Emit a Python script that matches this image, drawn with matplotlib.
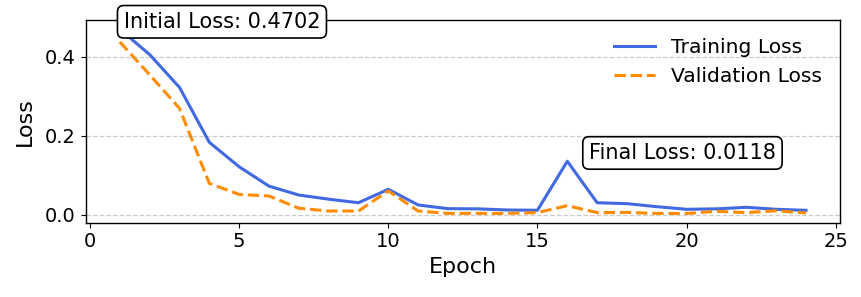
import numpy as np
import matplotlib
matplotlib.use("Agg")
import matplotlib.pyplot as plt

# loss per epoch
epochs = np.arange(1, 25)
train_loss = [0.4702, 0.406, 0.323, 0.184, 0.122, 0.073, 0.0505, 0.040, 0.031, 0.065,
              0.0253, 0.016, 0.0155, 0.0126, 0.012, 0.136, 0.031, 0.0286, 0.021, 0.0144,
              0.0155, 0.0194, 0.0144, 0.0118]
val_loss = [0.438, 0.355, 0.270, 0.080, 0.052, 0.048, 0.017, 0.010, 0.010, 0.061,
            0.010, 0.004, 0.004, 0.004, 0.006, 0.0236, 0.006, 0.0065, 0.004, 0.0038,
            0.0093, 0.006, 0.0105, 0.005]

fig, ax = plt.subplots(figsize=(8.62, 2.97), dpi=100)
fig.subplots_adjust(left=0.0992, right=0.9748, top=0.9327, bottom=0.2502)

ax.plot(epochs, train_loss, color="royalblue", lw=2.2, label="Training Loss")
ax.plot(epochs, val_loss, color="darkorange", lw=2.2, ls="--", label="Validation Loss")

ax.grid(axis="y", linestyle="--", color="#cccccc", lw=0.9)
ax.set_axisbelow(True)
for sp in ax.spines.values():
    sp.set_linewidth(1.0)

box = dict(boxstyle="round,pad=0.3", fc="white", ec="black", lw=1.2)
ax.text(1.13, 0.489, f"Initial Loss: {train_loss[0]:.4f}", fontsize=15,
        ha="left", va="center", bbox=box)
ax.text(19.86, 0.157, f"Final Loss: {train_loss[-1]:.4f}", fontsize=15,
        ha="center", va="center", bbox=box)

ax.set_xlabel("Epoch", fontsize=16)
ax.set_ylabel("Loss", fontsize=16, labelpad=7)
ax.tick_params(labelsize=14)
ax.legend(fontsize=14.6, frameon=False, loc="upper right")

fig.savefig("out.png", dpi=100)
